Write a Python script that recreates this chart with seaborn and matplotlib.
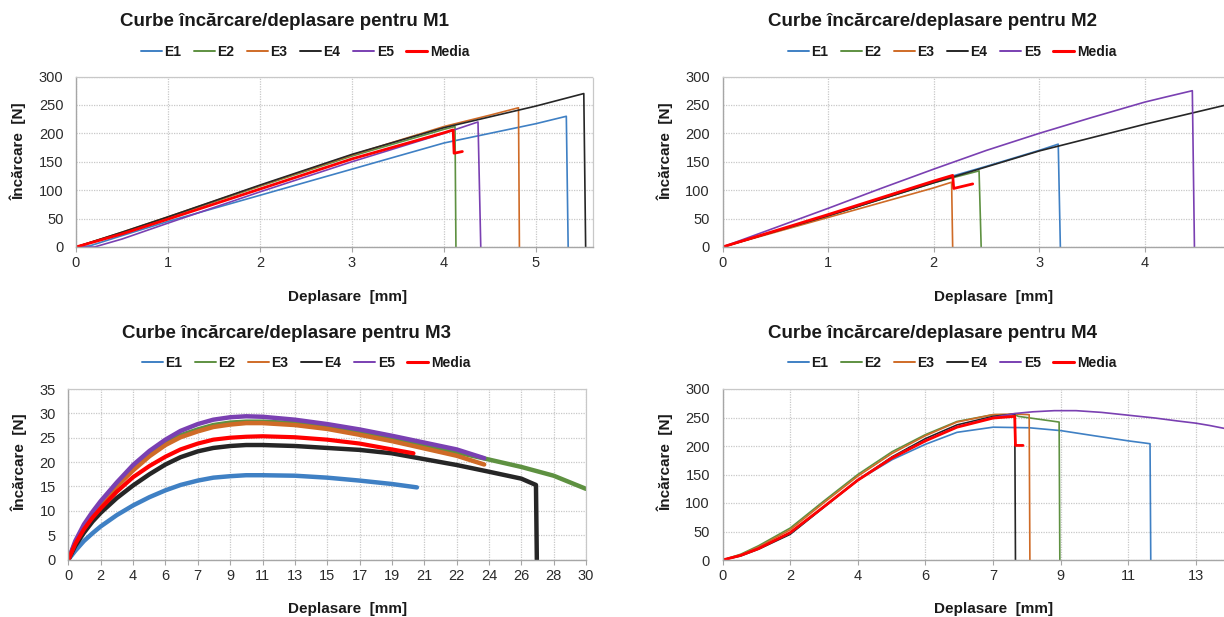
import matplotlib
matplotlib.use("Agg")
import matplotlib.pyplot as plt
from matplotlib.lines import Line2D
import pandas as pd
import seaborn as sns

# ---------------- data ----------------
series_names = ["E1", "E2", "E3", "E4", "E5", "Media"]
series_colors = ["#3F80C4", "#5E9141", "#CF6B27", "#262626", "#7A40B2", "#FF0000"]

titles = ["Curbe încărcare/deplasare pentru M1", "Curbe încărcare/deplasare pentru M2",
          "Curbe încărcare/deplasare pentru M3", "Curbe încărcare/deplasare pentru M4"]
x_label = "Deplasare  [mm]"
y_label = "Încărcare  [N]"

# M1
m1_e1_x = [0, 0.15, 0.5, 1, 2, 3, 4, 5, 5.33, 5.35]
m1_e1_y = [0, 2, 20, 45, 91, 137, 183, 217, 230, 0]
m1_e2_x = [0, 0.5, 1, 2, 3, 4, 4.12, 4.13]
m1_e2_y = [0, 25, 52, 107, 160, 207, 212, 0]
m1_e3_x = [0, 0.5, 1, 2, 3, 4, 4.5, 4.81, 4.82]
m1_e3_y = [0, 26, 53, 108, 162, 212, 232, 245, 0]
m1_e4_x = [0, 0.5, 1, 2, 3, 4, 5, 5.52, 5.54]
m1_e4_y = [0, 26, 53, 109, 163, 210, 248, 270, 0]
m1_e5_x = [0, 0.2, 0.5, 1, 2, 3, 4, 4.37, 4.4]
m1_e5_y = [0, 0, 14, 42, 97, 150, 200, 220, 0]
m1_med_x = [0, 0.5, 1, 2, 3, 4, 4.1, 4.11, 4.2]
m1_med_y = [0, 23, 49, 102, 155, 201, 206, 165, 168]

# M2
m2_e1_x = [0, 1, 2, 2.2, 2.5, 3, 3.18, 3.2]
m2_e1_y = [0, 55, 114, 126, 142, 170, 181, 0]
m2_e2_x = [0, 1, 2, 2.43, 2.45]
m2_e2_y = [0, 55, 113, 134, 0]
m2_e3_x = [0, 1, 2, 2.17, 2.18]
m2_e3_y = [0, 52, 104, 114, 0]
m2_e4_x = [0, 1, 2, 3, 4, 4.75]
m2_e4_y = [0, 55, 113, 169, 216, 249]
m2_e5_x = [0, 0.5, 1, 1.5, 2, 2.5, 3, 3.5, 4, 4.2, 4.45, 4.47]
m2_e5_y = [0, 34, 68, 103, 137, 170, 200, 228, 255, 264, 275, 0]
m2_med_x = [0, 1, 2, 2.18, 2.19, 2.37]
m2_med_y = [0, 57, 116, 126, 103, 111]

# M3
m3_e1_x = [0, 0.4, 0.9, 1.4, 1.875, 2.8, 3.75, 4.7, 5.625, 6.5, 7.5, 8.4, 9.375, 10.3,
           11.25, 13.125, 15, 16.875, 18.75, 20.2]
m3_e1_y = [0, 1.8, 3.8, 5.4, 6.8, 9.1, 11.1, 12.8, 14.2, 15.3, 16.2, 16.8, 17.1, 17.3,
           17.3, 17.2, 16.8, 16.2, 15.5, 14.8]
m3_e2_x = [0, 0.4, 0.9, 1.4, 1.875, 2.8, 3.75, 4.7, 5.625, 6.5, 7.5, 8.4, 9.375, 10.3,
           11.25, 13.125, 15, 16.875, 18.75, 20.625, 22.5, 24.4, 26.25, 28.125, 30]
m3_e2_y = [0, 3.4, 6.7, 9.3, 11.5, 15.3, 18.7, 21.6, 23.9, 25.5, 26.7, 27.6, 28.1, 28.3,
           28.3, 28.0, 27.2, 26.1, 24.9, 23.4, 22.0, 20.5, 19.0, 17.2, 14.5]
m3_e3_x = [0, 0.4, 0.9, 1.4, 1.875, 2.8, 3.75, 4.7, 5.625, 6.5, 7.5, 8.4, 9.375, 10.3,
           11.25, 13.125, 15, 16.875, 18.75, 20.625, 22.5, 24.1]
m3_e3_y = [0, 3.3, 6.5, 9.0, 11.2, 15.0, 18.3, 21.2, 23.5, 25.1, 26.3, 27.2, 27.7, 28.0,
           28.0, 27.6, 26.8, 25.6, 24.3, 22.8, 21.3, 19.5]
m3_e4_x = [0, 0.4, 0.9, 1.4, 1.875, 2.8, 3.75, 4.7, 5.625, 6.5, 7.5, 8.4, 9.375, 10.3,
           11.25, 13.125, 15, 16.875, 18.75, 20.625, 22.5, 24.4, 26.25, 27.1, 27.15]
m3_e4_y = [0, 2.8, 5.5, 7.8, 9.6, 12.6, 15.2, 17.5, 19.5, 21.0, 22.2, 22.9, 23.3, 23.5,
           23.5, 23.3, 22.9, 22.5, 21.8, 20.6, 19.4, 18.0, 16.6, 15.3, 0]
m3_e5_x = [0, 0.4, 0.9, 1.4, 1.875, 2.8, 3.75, 4.7, 5.625, 6.5, 7.5, 8.4, 9.375, 10.3,
           11.25, 13.125, 15, 16.875, 18.75, 20.625, 22.5, 24.1]
m3_e5_y = [0, 3.8, 7.2, 9.8, 12.0, 15.8, 19.4, 22.3, 24.6, 26.4, 27.8, 28.7, 29.2, 29.4,
           29.3, 28.7, 27.8, 26.7, 25.4, 24.0, 22.6, 20.8]
m3_med_x = [0, 0.4, 0.9, 1.4, 1.875, 2.8, 3.75, 4.7, 5.625, 6.5, 7.5, 8.4, 9.375, 10.3,
            11.25, 13.125, 15, 16.875, 18.75, 20.0]
m3_med_y = [0, 3.2, 6.2, 8.6, 10.5, 13.9, 16.9, 19.2, 21.1, 22.6, 23.8, 24.6, 25.0, 25.2,
            25.3, 25.1, 24.6, 23.8, 22.6, 21.8]
m3_tick_labels = ["0", "2", "4", "6", "7", "9", "11", "13", "15", "17", "19",
                  "21", "22", "24", "26", "28", "30"]

# M4
m4_e1_x = [0, 0.5, 1, 1.875, 2.8, 3.75, 4.7, 5.625, 6.5, 7.5, 8.5, 9.375, 10.3, 11.25, 11.85, 11.87]
m4_e1_y = [0, 8, 21, 47, 93, 140, 176, 203, 224, 233, 232, 227, 218, 209, 204, 0]
m4_e2_x = [0, 0.5, 1, 1.875, 2.8, 3.75, 4.7, 5.625, 6.5, 7.5, 8.1, 8.2, 9.33, 9.35]
m4_e2_y = [0, 10, 25, 56, 103, 150, 190, 220, 243, 255, 255, 252, 242, 0]
m4_e3_x = [0, 0.5, 1, 1.875, 2.8, 3.75, 4.7, 5.625, 6.5, 7.5, 8.1, 8.5, 8.52]
m4_e3_y = [0, 9, 23, 53, 100, 147, 187, 218, 242, 255, 256, 255, 0]
m4_e4_x = [0, 0.5, 1, 1.875, 2.8, 3.75, 4.7, 5.625, 6.5, 7.5, 8.1, 8.12]
m4_e4_y = [0, 7, 19, 45, 92, 140, 181, 213, 237, 252, 256, 0]
m4_e5_x = [0, 0.5, 1, 1.875, 2.8, 3.75, 4.7, 5.625, 6.5, 7.5, 8.1, 8.6, 9.2, 9.8, 10.5,
           11.25, 12, 12.6, 13.125, 13.5, 13.9]
m4_e5_y = [0, 8, 21, 47, 93, 141, 180, 210, 234, 250, 257, 260, 262, 262, 259,
           254, 249, 244, 240, 236, 231]
m4_med_x = [0, 0.5, 1, 1.875, 2.8, 3.75, 4.7, 5.625, 6.5, 7.5, 8.1, 8.12, 8.33]
m4_med_y = [0, 8, 20, 48, 93, 140, 179, 209, 233, 249, 252, 201, 201]
m4_tick_labels = ["0", "2", "4", "6", "7", "9", "11", "13"]

panels = [
    [(m1_e1_x, m1_e1_y), (m1_e2_x, m1_e2_y), (m1_e3_x, m1_e3_y),
     (m1_e4_x, m1_e4_y), (m1_e5_x, m1_e5_y), (m1_med_x, m1_med_y)],
    [(m2_e1_x, m2_e1_y), (m2_e2_x, m2_e2_y), (m2_e3_x, m2_e3_y),
     (m2_e4_x, m2_e4_y), (m2_e5_x, m2_e5_y), (m2_med_x, m2_med_y)],
    [(m3_e1_x, m3_e1_y), (m3_e2_x, m3_e2_y), (m3_e3_x, m3_e3_y),
     (m3_e4_x, m3_e4_y), (m3_e5_x, m3_e5_y), (m3_med_x, m3_med_y)],
    [(m4_e1_x, m4_e1_y), (m4_e2_x, m4_e2_y), (m4_e3_x, m4_e3_y),
     (m4_e4_x, m4_e4_y), (m4_e5_x, m4_e5_y), (m4_med_x, m4_med_y)],
]

# ---------------- style ----------------
sns.set_style("white")
FONT = ['Liberation Sans', 'DejaVu Sans']
plt.rcParams['font.family'] = FONT

W, H = 1224, 617
fig = plt.figure(figsize=(W / 100, H / 100), dpi=100)


def add_axes_px(left, right, top, bottom):
    return fig.add_axes([left / W, 1 - bottom / H, (right - left) / W, (bottom - top) / H])


def fx(x):
    return x / W


def fy(y):
    return 1 - y / H


layout = [
    dict(box=(76, 593, 76.5, 247), xlim=(0, 5.62), ylim=(0, 300), ystep=50,
         title=(285, 22), leg=(305, 52), xl=(348, 297), yl=(18, 151), right_spine=True),
    dict(box=(722.5, 1224, 76.5, 247), xlim=(0, 4.75), ylim=(0, 300), ystep=50,
         title=(932, 22), leg=(952, 52), xl=(994, 297), yl=(665, 151), right_spine=False),
    dict(box=(68.4, 586, 389, 559.5), xlim=(0, 30), ylim=(0, 35), ystep=5,
         title=(287, 334), leg=(306, 363), xl=(348, 609), yl=(19.5, 462), right_spine=True),
    dict(box=(722.5, 1224, 389, 560), xlim=(0, 13.9), ylim=(0, 300), ystep=50,
         title=(932, 334), leg=(952, 363), xl=(994, 609), yl=(665, 462), right_spine=False),
]

grid_color = "#C8C8C8"
axis_color = "#A6A6A6"
text_color = "#1a1a1a"

for i, (panel, lay) in enumerate(zip(panels, layout)):
    ax = add_axes_px(*lay["box"])
    thick = (i == 2)
    for (xs, ys), name, col in zip(panel, series_names, series_colors):
        df = pd.DataFrame({"x": xs, "y": ys})
        if name == "Media":
            lw = 3.0 if thick else 2.0
        else:
            lw = 3.2 if thick else 1.2
        sns.lineplot(data=df, x="x", y="y", sort=False, estimator=None, ax=ax,
                     color=col, linewidth=lw, legend=False)
    ax.set_xlim(*lay["xlim"])
    ax.set_ylim(*lay["ylim"])
    yt = list(range(lay["ylim"][0], lay["ylim"][1] + 1, lay["ystep"]))
    ax.set_yticks(yt)
    ax.set_yticklabels([str(v) for v in yt])
    if i == 2:
        ax.set_xticks([k * 1.875 for k in range(len(m3_tick_labels))])
        ax.set_xticklabels(m3_tick_labels)
    elif i == 3:
        ax.set_xticks([k * 1.875 for k in range(len(m4_tick_labels))])
        ax.set_xticklabels(m4_tick_labels)
    else:
        ax.set_xticks(list(range(0, int(lay["xlim"][1]) + 1)))
    ax.set_xlabel("")
    ax.set_ylabel("")
    ax.grid(True, color=grid_color, linestyle=(0, (1, 1)), linewidth=0.9)
    ax.set_axisbelow(True)
    for s in ("left", "bottom"):
        ax.spines[s].set_color(axis_color)
        ax.spines[s].set_linewidth(1.0)
    ax.spines["top"].set_color(grid_color)
    ax.spines["top"].set_linestyle((0, (1, 1)))
    ax.spines["top"].set_linewidth(0.9)
    if lay["right_spine"]:
        ax.spines["right"].set_color(grid_color)
        ax.spines["right"].set_linestyle((0, (1, 1)))
        ax.spines["right"].set_linewidth(0.9)
    else:
        ax.spines["right"].set_visible(False)
    ax.tick_params(axis="x", direction="out", length=3.5, width=0.8, color=axis_color,
                   labelsize=10.5, pad=3, labelcolor="#2b2b2b", bottom=True)
    ax.tick_params(axis="y", length=0, labelsize=10.5, pad=9, labelcolor="#2b2b2b")

    handles = [Line2D([0], [0], color=c, lw=(2.2 if n == "Media" else 1.4))
               for n, c in zip(series_names, series_colors)]
    ax.legend(handles, series_names, loc="center",
              bbox_to_anchor=(fx(lay["leg"][0]), fy(lay["leg"][1])),
              bbox_transform=fig.transFigure, ncol=6, frameon=False,
              prop=dict(family=FONT, weight="bold", size=10),
              handlelength=1.5, handletextpad=0.2, columnspacing=0.9, borderpad=0,
              labelcolor=text_color)

    fig.text(fx(lay["title"][0]), fy(lay["title"][1]), titles[i], ha="center", va="center",
             fontsize=13.5, fontweight="bold", color=text_color)
    fig.text(fx(lay["xl"][0]), fy(lay["xl"][1]), x_label, ha="center", va="center",
             fontsize=11, fontweight="bold", color=text_color)
    fig.text(fx(lay["yl"][0]), fy(lay["yl"][1]), y_label, ha="center", va="center",
             rotation=90, fontsize=11, fontweight="bold", color=text_color)

fig.savefig("out.png", dpi=100)
